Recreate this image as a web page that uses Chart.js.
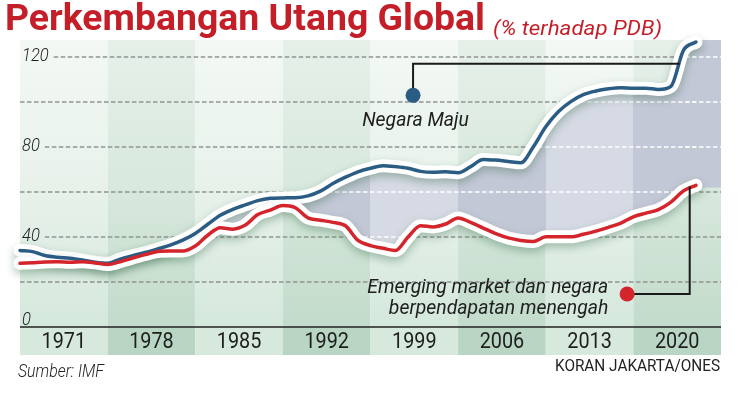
<!DOCTYPE html>
<html>
<head>
<meta charset="utf-8">
<script src="https://cdn.jsdelivr.net/npm/chart.js@4.4.1/dist/chart.umd.min.js"></script>
<style>
  body { margin: 0; background: #fff; width: 741px; height: 406px; overflow: hidden; position: relative; }
  canvas { position: absolute; left: 0; top: 0; }
  .teks { position: absolute; white-space: nowrap; transform-origin: left top; }
  #judul { left: 5px; top: -4px; font: 700 37px Roboto, sans-serif; color: #c41f28; }
  #satuan { left: 493px; top: 16px; font: italic 400 21px Roboto, sans-serif; color: #c41f28; }
  #sumber { left: 18px; top: 360px; font: italic 300 18px Roboto, sans-serif; color: #222; }
  #kredit { left: 555px; top: 356px; font: 400 16px Roboto, sans-serif; color: #222; }
</style>
</head>
<body>
<canvas id="grafik" width="741" height="406"></canvas>
<div class="teks" id="judul">Perkembangan Utang Global</div>
<div class="teks" id="satuan">(% terhadap PDB)</div>
<div class="teks" id="sumber">Sumber: IMF</div>
<div class="teks" id="kredit">KORAN JAKARTA/ONES</div>
<script>
// Data (% terhadap PDB)
const tahun = [1968, 1969, 1970, 1971, 1972, 1973, 1974, 1975, 1976, 1977,
               1978, 1979, 1980, 1981, 1982, 1983, 1984, 1985, 1986, 1987,
               1988, 1989, 1990, 1991, 1992, 1993, 1994, 1995, 1996, 1997,
               1998, 1999, 2000, 2001, 2002, 2003, 2004, 2005, 2006, 2007,
               2008, 2009, 2010, 2011, 2012, 2013, 2014, 2015, 2016, 2017,
               2018, 2019, 2020, 2021, 2022];

const negaraMaju = [34, 33.5, 31.8, 31, 30.6, 29.8, 28.8, 28.3, 30.2, 31.7,
                    33.1, 34.7, 36.4, 38.6, 41.6, 45.7, 49.7, 52.3, 54.3, 56.2,
                    57.2, 57.4, 57.5, 58.3, 60.4, 63.8, 66.6, 69, 70.6, 71.7,
                    71.3, 70.6, 69.2, 68.8, 69, 68.6, 71.3, 74.5, 74.2, 73.6,
                    73, 80, 89, 95.7, 100.2, 103.3, 104.9, 105.9, 106.4, 106.2,
                    106.2, 105.6, 107, 123, 126.7];

const emerging = [28.3, 28.6, 28.9, 29, 28.8, 29, 28.5, 27.8, 29, 30.7,
                  32.2, 33.6, 33.8, 33.8, 36, 40.8, 44.1, 43.5, 45.3, 50,
                  52, 54, 53, 48.5, 47.5, 46.5, 45, 38.5, 36.2, 35,
                  34, 40, 45, 44.5, 45.8, 48.5, 46.5, 44, 41.5, 39.6,
                  38.5, 38, 40.1, 40.1, 40.1, 41.2, 42.6, 44.3, 46.2, 49,
                  50.6, 52.2, 55.5, 60.5, 63];

const labelTahun = ['1971', '1978', '1985', '1992', '1999', '2006', '2013', '2020'];
const garisY = [0, 20, 40, 60, 80, 100, 120];
const labelY = [0, 40, 80, 120];

const BIRU = '#2b5d84';
const MERAH = '#d3252b';

// warna pita abu-abu (isian di antara dua garis)
function isiAbu(context) {
    const chart = context.chart;
    const a = chart.chartArea;
    const x = chart.scales.x;
    if (!a || !x) return '#cdd1dd';
    const g = chart.ctx.createLinearGradient(a.left, 0, a.right, 0);
    const w = a.right - a.left;
    const klem = v => Math.min(1, Math.max(0, v));
    labelTahun.forEach((lbl, i) => {
        const c = i % 2 ? '#c3c8d6' : '#d6dae5';
        g.addColorStop(klem((x.getPixelForValue(+lbl - 3) - a.left) / w), c);
        g.addColorStop(klem((x.getPixelForValue(+lbl + 4) - a.left) / w), c);
    });
    return g;
}

function titik(arr) {
    return tahun.map((t, i) => ({ x: t, y: arr[i] }));
}

// teks yang dipadatkan horizontal
function tulis(ctx, s, x, y, align, sx) {
    ctx.save();
    ctx.translate(x, y);
    ctx.scale(sx, 1);
    ctx.textAlign = align;
    ctx.fillText(s, 0, 0);
    ctx.restore();
}

function garisPutus(ctx, a, y, x0) {
    ctx.beginPath();
    ctx.moveTo(x0, y);
    ctx.lineTo(a.right, y);
    ctx.stroke();
}

const latarPlugin = {
    id: 'latar',
    beforeDatasetsDraw(chart) {
        const { ctx, chartArea: a, scales: { x, y } } = chart;
        ctx.save();
        // pita latar hijau + pita label tahun
        labelTahun.forEach((lbl, i) => {
            const x0 = x.getPixelForValue(+lbl - 3);
            const x1 = x.getPixelForValue(+lbl + 4);
            const gelap = i % 2 === 1;
            const g = ctx.createLinearGradient(0, a.top, 0, a.bottom);
            g.addColorStop(0, gelap ? '#e6f0e9' : '#f3f8f4');
            g.addColorStop(0.5, gelap ? '#d8e9dd' : '#e8f2eb');
            g.addColorStop(1, gelap ? '#c2dbcb' : '#d5e8dc');
            ctx.fillStyle = g;
            ctx.fillRect(x0, a.top, x1 - x0, a.bottom - a.top);
            ctx.fillStyle = gelap ? '#b8d6c3' : '#d6e9dc';
            ctx.fillRect(x0, a.bottom, x1 - x0, 28);
        });
        // garis kisi putus-putus
        ctx.font = 'italic 300 18px Roboto, sans-serif';
        ctx.strokeStyle = '#8f9591';
        ctx.lineWidth = 1.5;
        ctx.setLineDash([4.5, 2.5]);
        garisY.forEach(v => {
            if (v === 0) return;
            let x0 = a.left;
            if (labelY.includes(v)) x0 = a.left + 2 + ctx.measureText(String(v)).width * 0.92 + 5;
            garisPutus(ctx, a, y.getPixelForValue(v), x0);
        });
        ctx.setLineDash([]);
        // perpanjangan area abu-abu di kanan
        ctx.fillStyle = isiAbu({ chart });
        const xe = x.getPixelForValue(2021.2);
        ctx.fillRect(xe, a.top, a.right - xe, y.getPixelForValue(62) - a.top);
        ctx.restore();
    },
    beforeDatasetDraw(chart, args) {
        const ds = chart.data.datasets[args.index];
        if (ds.halo) {
            const ctx = chart.ctx;
            ctx.save();
            ctx.shadowColor = 'rgba(40, 95, 60, 0.35)';
            ctx.shadowBlur = 9;
            ctx.shadowOffsetY = 4;
        }
    },
    afterDatasetDraw(chart, args) {
        const ds = chart.data.datasets[args.index];
        const ctx = chart.ctx;
        if (ds.halo) ctx.restore();
        if (args.index !== 0) return;
        // kisi putih di atas area abu-abu
        const { chartArea: a, scales: { x, y } } = chart;
        const pb = chart.getDatasetMeta(0).data;
        const pr = chart.getDatasetMeta(1).data;
        const klip = [
            c => {
                c.beginPath();
                pb.forEach((p, i) => i ? c.lineTo(p.x, p.y) : c.moveTo(p.x, p.y));
                for (let i = pr.length - 1; i >= 0; i--) c.lineTo(pr[i].x, pr[i].y);
                c.closePath();
            },
            c => {
                c.beginPath();
                const xe = x.getPixelForValue(2021.2);
                c.rect(xe, a.top, a.right - xe, y.getPixelForValue(62) - a.top);
            }
        ];
        klip.forEach(f => {
            ctx.save();
            f(ctx);
            ctx.clip();
            ctx.strokeStyle = '#ffffff';
            ctx.lineWidth = 1.5;
            ctx.setLineDash([4.5, 2.5]);
            garisY.forEach(v => { if (v) garisPutus(ctx, a, y.getPixelForValue(v), a.left); });
            ctx.restore();
        });
    },
    afterDatasetsDraw(chart) {
        const { ctx, chartArea: a, scales: { x, y } } = chart;
        ctx.save();
        // sumbu nol
        ctx.strokeStyle = '#222';
        ctx.lineWidth = 1.5;
        ctx.beginPath();
        ctx.moveTo(a.left, y.getPixelForValue(0));
        ctx.lineTo(a.right, y.getPixelForValue(0));
        ctx.stroke();
        // label sumbu Y
        ctx.fillStyle = '#222';
        ctx.font = 'italic 300 18px Roboto, sans-serif';
        ctx.textBaseline = 'alphabetic';
        labelY.forEach(v => {
            const py = y.getPixelForValue(v) + (v === 0 ? -2 : 4);
            tulis(ctx, String(v), a.left + 2, py, 'left', 0.92);
        });
        // label tahun
        ctx.font = '400 22px Roboto, sans-serif';
        ctx.fillStyle = '#1e1e1e';
        ctx.textBaseline = 'middle';
        labelTahun.forEach(lbl => {
            tulis(ctx, lbl, x.getPixelForValue(+lbl + 0.5), a.bottom + 15, 'center', 0.9);
        });
        // anotasi Negara Maju
        ctx.strokeStyle = '#1a1a1a';
        ctx.lineWidth = 2;
        const bx = x.getPixelForValue(1999.4), by = y.getPixelForValue(103);
        ctx.beginPath();
        ctx.moveTo(bx, by);
        ctx.lineTo(bx, y.getPixelForValue(117));
        ctx.lineTo(x.getPixelForValue(2020.7), y.getPixelForValue(117));
        ctx.stroke();
        ctx.fillStyle = BIRU;
        ctx.beginPath();
        ctx.arc(bx, by, 7.5, 0, Math.PI * 2);
        ctx.fill();
        // anotasi Emerging market
        const rx = x.getPixelForValue(2016.5), ry = y.getPixelForValue(14.7);
        ctx.beginPath();
        ctx.moveTo(rx, ry);
        ctx.lineTo(x.getPixelForValue(2021.5), ry);
        ctx.lineTo(x.getPixelForValue(2021.5), y.getPixelForValue(62.5));
        ctx.stroke();
        ctx.fillStyle = MERAH;
        ctx.beginPath();
        ctx.arc(rx, ry, 7.5, 0, Math.PI * 2);
        ctx.fill();
        // teks anotasi
        ctx.fillStyle = '#1e1e1e';
        ctx.font = 'italic 400 20px Roboto, sans-serif';
        ctx.textBaseline = 'alphabetic';
        tulis(ctx, 'Negara Maju', x.getPixelForValue(1999.6), y.getPixelForValue(89.5), 'center', 0.97);
        tulis(ctx, 'Emerging market dan negara', x.getPixelForValue(2015), y.getPixelForValue(15.1), 'right', 0.97);
        tulis(ctx, 'berpendapatan menengah', x.getPixelForValue(2015), y.getPixelForValue(5.8), 'right', 0.97);
        ctx.restore();
    }
};

const garisUmum = { pointRadius: 0, tension: 0.4, cubicInterpolationMode: 'monotone', clip: false, fill: false };

new Chart(document.getElementById('grafik').getContext('2d'), {
    type: 'line',
    data: {
        datasets: [
            { ...garisUmum, label: 'isi', data: titik(negaraMaju), borderWidth: 0, fill: '+1', backgroundColor: isiAbu, order: 10 },
            { ...garisUmum, label: 'isi2', data: titik(emerging), borderWidth: 0, order: 9 },
            { ...garisUmum, label: 'halo1', data: titik(negaraMaju), borderColor: '#ffffff', borderWidth: 13,
              borderCapStyle: 'round', borderJoinStyle: 'round', halo: true, order: 8 },
            { ...garisUmum, label: 'halo2', data: titik(emerging), borderColor: '#ffffff', borderWidth: 13,
              borderCapStyle: 'round', borderJoinStyle: 'round', halo: true, order: 7 },
            { ...garisUmum, label: 'Negara Maju', data: titik(negaraMaju), borderColor: BIRU, borderWidth: 3.5,
              borderCapStyle: 'round', order: 2 },
            { ...garisUmum, label: 'Emerging market dan negara berpendapatan menengah', data: titik(emerging),
              borderColor: MERAH, borderWidth: 3.5, borderCapStyle: 'round', order: 1 }
        ]
    },
    options: {
        responsive: false,
        animation: false,
        layout: { padding: { left: 20, right: 20, top: 40, bottom: 79 } },
        scales: {
            x: { type: 'linear', min: 1968, max: 2024, display: false },
            y: { min: 0, max: 127.6, display: false }
        },
        plugins: {
            legend: { display: false },
            tooltip: { enabled: false }
        }
    },
    plugins: [latarPlugin]
});

// sesuaikan lebar teks judul dan keterangan
function pas(id, lebar) {
    const el = document.getElementById(id);
    const w = el.getBoundingClientRect().width;
    el.style.transform = 'scaleX(' + (lebar / w) + ')';
}
pas('judul', 480);
pas('satuan', 169);
pas('sumber', 86);
pas('kredit', 165);
</script>
</body>
</html>
